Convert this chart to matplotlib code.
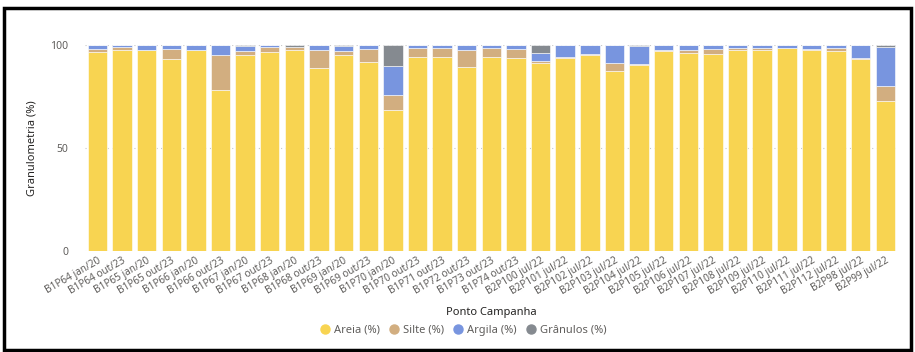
import numpy as np
import matplotlib
matplotlib.use('Agg')
import matplotlib.pyplot as plt
from matplotlib.patches import Rectangle

plt.rcParams['font.family'] = ['Noto Sans', 'DejaVu Sans']

# pontos / campanhas
pontos = ['B1P64 jan/20', 'B1P64 out/23', 'B1P65 jan/20', 'B1P65 out/23', 'B1P66 jan/20',
          'B1P66 out/23', 'B1P67 jan/20', 'B1P67 out/23', 'B1P68 jan/20', 'B1P68 out/23',
          'B1P69 jan/20', 'B1P69 out/23', 'B1P70 jan/20', 'B1P70 out/23', 'B1P71 out/23',
          'B1P72 out/23', 'B1P73 out/23', 'B1P74 out/23', 'B2P100 jul/22', 'B2P101 jul/22',
          'B2P102 jul/22', 'B2P103 jul/22', 'B2P104 jul/22', 'B2P105 jul/22', 'B2P106 jul/22',
          'B2P107 jul/22', 'B2P108 jul/22', 'B2P109 jul/22', 'B2P110 jul/22', 'B2P111 jul/22',
          'B2P112 jul/22', 'B2P98 jul/22', 'B2P99 jul/22']

areia = [96.5, 97.5, 97.5, 93.0, 97.5, 78.0, 95.0, 96.5, 97.7, 89.0,
         95.0, 92.0, 68.5, 94.3, 94.0, 89.5, 94.2, 93.5, 91.5, 93.7,
         95.0, 87.4, 90.2, 97.2, 96.3, 95.6, 97.7, 97.4, 98.6, 97.8,
         97.2, 93.4, 73.0]
silte = [1.5, 1.7, 0.0, 5.3, 0.0, 17.0, 2.0, 2.5, 1.5, 8.5,
         2.0, 6.0, 7.3, 4.1, 4.5, 8.0, 4.5, 4.5, 0.7, 0.5,
         0.5, 3.7, 0.5, 0.2, 1.5, 2.4, 1.0, 1.0, 0.0, 0.3,
         1.3, 0.3, 7.3]
argila = [2.0, 0.8, 2.5, 1.7, 2.5, 5.0, 2.5, 1.0, 0.0, 2.5,
          2.5, 2.0, 13.8, 1.6, 1.5, 2.5, 1.3, 2.0, 4.0, 5.8,
          4.5, 8.9, 8.8, 2.6, 2.2, 2.0, 1.3, 1.6, 1.4, 1.9,
          1.5, 6.3, 18.6]
granulos = [0.0, 0.0, 0.0, 0.0, 0.0, 0.0, 0.5, 0.0, 0.8, 0.0,
            0.5, 0.0, 10.4, 0.0, 0.0, 0.0, 0.0, 0.0, 3.8, 0.0,
            0.0, 0.0, 0.5, 0.0, 0.0, 0.0, 0.0, 0.0, 0.0, 0.0,
            0.0, 0.0, 1.1]

series = [('Areia (%)', areia, '#F8D451'),
          ('Silte (%)', silte, '#D2AE80'),
          ('Argila (%)', argila, '#7895DF'),
          ('Grânulos (%)', granulos, '#858A90')]

fig = plt.figure(figsize=(9.15, 3.52), dpi=100)
ax = fig.add_axes([0.093, 0.287, 0.888, 0.585])

x = np.arange(len(pontos))
base = np.zeros(len(pontos))
for nome, vals, cor in series:
    vals = np.array(vals)
    ax.bar(x, vals, bottom=base, width=0.79, color=cor, edgecolor='white',
           linewidth=0.4, zorder=2)
    base += vals

ax.set_xlim(-0.5, len(pontos) - 0.5)
ax.set_ylim(0, 100)
ax.set_yticks([0, 50, 100])
ax.yaxis.grid(True, linestyle=(0, (1, 3)), color='#c8c8c8', linewidth=0.8, zorder=0)
for s in ax.spines.values():
    s.set_visible(False)
ax.tick_params(axis='both', length=0, labelsize=7.5, labelcolor='#605E5C')
ax.tick_params(axis='y', pad=12)
ax.set_xticks(x)
ax.set_xticklabels(pontos, rotation=30, ha='right', rotation_mode='anchor', fontsize=7.2)
ax.tick_params(axis='x', pad=3)

ax.set_ylabel('Granulometria (%)', fontsize=8, color='#252423', labelpad=9)
ax.set_xlabel('Ponto Campanha', fontsize=8, color='#252423', fontweight='semibold', labelpad=7)

# legenda com marcadores circulares
handles = [plt.Line2D([], [], marker='o', linestyle='', markersize=6.5, color=cor)
           for _, _, cor in series]
fig.legend(handles, [s[0] for s in series], loc='center', bbox_to_anchor=(0.503, 0.062),
           ncol=4, frameon=False, fontsize=8, handletextpad=-0.2, columnspacing=0.3,
           labelcolor='#605E5C')

# moldura preta
fig.patches.append(Rectangle((0.004, 0.005), 0.992, 0.973, transform=fig.transFigure,
                             fill=False, edgecolor='black', linewidth=2.5))

fig.savefig('out.png', dpi=100)
